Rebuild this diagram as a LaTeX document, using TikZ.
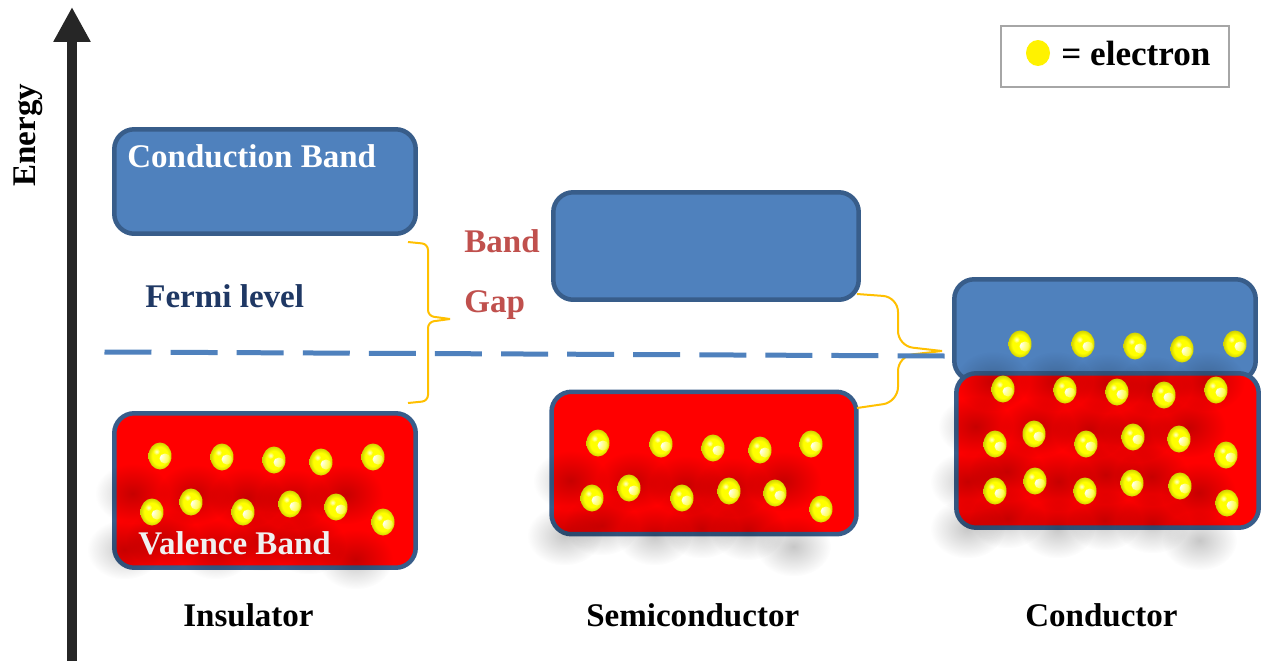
\documentclass[tikz,border=0pt]{standalone}
\usepackage{fontspec}
\setmainfont{Liberation Serif}
\usetikzlibrary{arrows.meta,shapes.geometric,fadings}

\definecolor{bandblue}{HTML}{4F81BD}
\definecolor{bandedge}{HTML}{385D8A}
\definecolor{gapred}{HTML}{C0504D}
\definecolor{fermiblue}{HTML}{1F3864}
\definecolor{axisgray}{HTML}{262626}
\definecolor{bracegold}{HTML}{FFC000}
\definecolor{keygray}{HTML}{A6A6A6}

\pgfdeclareradialshading{bead}{\pgfpoint{0bp}{0bp}}{color(0bp)=(yellow); color(17bp)=(yellow); color(25bp)=(yellow!82!black); color(50bp)=(yellow!82!black)}
\tikzfading[name=soft, inner color=transparent!0, outer color=transparent!100]

\pgfdeclarelayer{back}
\pgfdeclarelayer{shade}
\pgfsetlayers{back,shade,main}

\def\lblsize{\fontsize{18.8}{22}\selectfont\bfseries}

\tikzset{
	band/.style={rectangle, rounded corners=0.4cm, draw=bandedge, line width=0.09cm, inner sep=0},
	cband/.style={band, fill=bandblue},
	vband/.style={band, fill=red},
	smudge/.style={fill=black, opacity=0.22, path fading=soft},
	electron/.style={ellipse, inner sep=0, minimum width=0.46cm, minimum height=0.54cm, shade, shading=bead,
		path picture={
			\fill[white, path fading=soft] ([shift={(0.1cm,-0.05cm)}]path picture bounding box.center) ellipse [x radius=0.11cm, y radius=0.1cm];
			\fill[white, opacity=0.8, path fading=soft] ([shift={(-0.07cm,0.09cm)}]path picture bounding box.center) circle (0.07cm);
		},
		append after command={\pgfextra{\begin{pgfonlayer}{shade}\fill[smudge] ([shift={(-0.55cm,-0.75cm)}]\tikzlastnode.center) ellipse [x radius=0.75cm, y radius=0.6cm];\end{pgfonlayer}}}},
	keydot/.style={ellipse, inner sep=0, minimum width=0.48cm, minimum height=0.52cm, fill=yellow},
	lbl/.style={font=\lblsize, inner sep=0, anchor=base west},
	axis/.style={draw=axisgray, line width=0.22cm, -{Triangle[width=0.7cm, length=0.7cm]}},
	gapbrace/.style={draw=bracegold, line width=0.04cm, rounded corners=0.12cm, line join=round},
	fermiline/.style={draw=bandblue, line width=0.1cm, dash pattern=on 0.94cm off 0.382cm}
}

\begin{document}
\begin{tikzpicture}[x=0.02cm, y=-0.02cm]
	\useasboundingbox (0,0) rectangle (1262,660);
	
	% bands
	\begin{pgfonlayer}{back}
		\fill[white] (0,0) rectangle (1262,660);
		\node[cband, minimum width=6.03cm, minimum height=2.09cm] (icb) at (265,181.5) {};
		\node[vband, minimum width=6.03cm, minimum height=3.09cm] (ivb) at (265,490.5) {};
		\node[cband, minimum width=6.11cm, minimum height=2.15cm] (scb) at (706,246) {};
		\node[vband, minimum width=6.1cm, minimum height=2.85cm] (svb) at (704,463) {};
		\node[cband, minimum width=6.03cm, minimum height=2.03cm] (ccb) at (1105,330) {};
		\node[vband, minimum width=6.05cm, minimum height=3.09cm] (cvb) at (1107.5,450.5) {};
	\end{pgfonlayer}
	
	% energy axis
	\coordinate (ebot) at (72,662);
	\coordinate (etop) at (72,7);
	\draw[axis] (ebot) -- (etop);
	\node[lbl, rotate=90] (energy) at (35,187) {Energy};
	
	% insulator electrons
	\node[electron] (i1) at (160,456) {};
	\node[electron] (i2) at (222,457) {};
	\node[electron] (i3) at (274,460) {};
	\node[electron] (i4) at (321,462) {};
	\node[electron] (i5) at (373,457) {};
	\node[electron] (i6) at (152,512) {};
	\node[electron] (i7) at (191,502) {};
	\node[electron] (i8) at (243,512) {};
	\node[electron] (i9) at (290,504) {};
	\node[electron] (i10) at (336,507) {};
	\node[electron] (i11) at (383,522) {};
	
	% semiconductor electrons
	\node[electron] (s1) at (598,443) {};
	\node[electron] (s2) at (661,444) {};
	\node[electron] (s3) at (713,448) {};
	\node[electron] (s4) at (760,450) {};
	\node[electron] (s5) at (811,444) {};
	\node[electron] (s6) at (592,498) {};
	\node[electron] (s7) at (629,488) {};
	\node[electron] (s8) at (682,498) {};
	\node[electron] (s9) at (729,491) {};
	\node[electron] (s10) at (775,493) {};
	\node[electron] (s11) at (821,509) {};
	
	% conductor electrons
	\node[electron] (c1) at (1020,344) {};
	\node[electron] (c2) at (1083,344) {};
	\node[electron] (c3) at (1135,346) {};
	\node[electron] (c4) at (1182,349) {};
	\node[electron] (c5) at (1235,344) {};
	\node[electron] (c6) at (1003,389) {};
	\node[electron] (c7) at (1065,390) {};
	\node[electron] (c8) at (1117,392) {};
	\node[electron] (c9) at (1164,395) {};
	\node[electron] (c10) at (1216,390) {};
	\node[electron] (c11) at (995,444) {};
	\node[electron] (c12) at (1034,434) {};
	\node[electron] (c13) at (1086,444) {};
	\node[electron] (c14) at (1133,437) {};
	\node[electron] (c15) at (1179,439) {};
	\node[electron] (c16) at (1226,455) {};
	\node[electron] (c17) at (995,491) {};
	\node[electron] (c18) at (1035,481) {};
	\node[electron] (c19) at (1085,491) {};
	\node[electron] (c20) at (1132,483) {};
	\node[electron] (c21) at (1180,486) {};
	\node[electron] (c22) at (1227,503) {};
	
	% band gap braces
	\coordinate (g1a) at (408,242);
	\coordinate (g1tip) at (450,319);
	\coordinate (g1b) at (408,403);
	\draw[gapbrace] (g1a) -- (428,244) -- (428,316) -- (g1tip);
	\draw[gapbrace] (g1tip) -- (428,322) -- (428,401) -- (g1b);
	
	\coordinate (g2a) at (857,294);
	\coordinate (g2tip) at (942,351);
	\coordinate (g2b) at (857,408);
	\draw[gapbrace, rounded corners=0.3cm] (g2a) -- (898,297) -- (898,346) -- (g2tip);
	\draw[gapbrace, rounded corners=0.3cm] (g2tip) -- (898,356) -- (898,402) -- (g2b);
	
	% fermi level
	\coordinate (fl0) at (104.5,352);
	\coordinate (fl1) at (945,356);
	\draw[fermiline] (fl0) -- (fl1);
	
	% labels
	\node[lbl, text=white] (cbtxt) at (127,167) {Conduction Band};
	\node[lbl, text=white!94!black] (vbtxt) at (138,554) {Valence Band};
	\node[lbl, text=fermiblue] (fermi) at (145,307) {Fermi level};
	\node[lbl, text=gapred] (gap1) at (464,252) {Band};
	\node[lbl, text=gapred] (gap2) at (464,312) {Gap};
	\node[lbl] (ins) at (183,626) {Insulator};
	\node[lbl] (semi) at (586,626) {Semiconductor};
	\node[lbl] (cond) at (1025,626) {Conductor};
	
	% legend
	\node[rectangle, draw=keygray, line width=0.04cm, minimum width=4.56cm, minimum height=1.22cm] (key) at (1115,56.5) {};
	\node[keydot] (keyel) at (1038,53) {};
	\node[lbl, font=\fontsize{20}{24}\selectfont\bfseries] (keytxt) at (1061,65) {= electron};
	
\end{tikzpicture}
\end{document}
